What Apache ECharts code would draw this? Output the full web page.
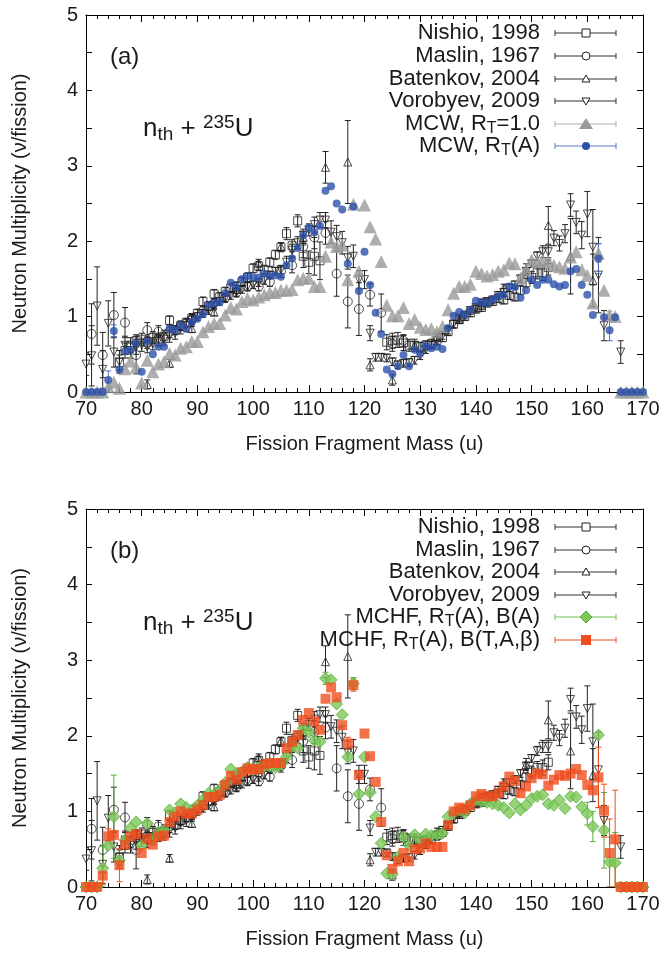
<!DOCTYPE html>
<html><head><meta charset="utf-8">
<script src="https://cdn.jsdelivr.net/npm/echarts@6/dist/echarts.min.js"></script>
<style>html,body{margin:0;padding:0;background:#fff}#c{width:667px;height:958px}</style>
</head><body><div id="c"></div>
<script>
// ---------- data ----------
const modelMass = [70,71,72,73,74,75,76,77,78,79,80,81,82,83,84,85,86,87,88,89,90,91,92,93,94,95,96,97,98,99,100,101,102,103,104,105,106,107,108,109,110,111,112,113,114,115,116,117,118,119,120,121,122,123,124,125,126,127,128,129,130,131,132,133,134,135,136,137,138,139,140,141,142,143,144,145,146,147,148,149,150,151,152,153,154,155,156,157,158,159,160,161,162,163,164,165,166,167,168,169,170];

const mcwRT1 = [0,0,0,0,0.07,0.13,0.05,0.31,0.41,0.33,0.12,0.42,0.27,0.37,0.40,0.51,0.49,0.58,0.60,0.67,0.67,0.80,0.87,0.91,0.91,1.02,1.12,1.10,1.20,1.24,1.22,1.26,1.29,1.32,1.32,1.35,1.35,1.36,1.49,1.51,1.51,1.40,1.40,1.80,1.99,1.93,1.95,1.49,2.49,1.60,2.48,2.19,2.03,1.73,1.15,1.01,1.01,1.12,0.91,0.96,0.86,0.83,0.84,0.80,0.87,1.09,1.31,1.40,1.40,1.43,1.60,1.57,1.54,1.56,1.60,1.62,1.71,1.70,1.51,1.62,1.75,1.73,1.75,1.73,1.68,1.66,1.64,1.79,1.86,1.62,1.55,1.18,1.84,1.35,1.02,1.00,0,0,0,0,0];

const mcwRTA = [0,0,0,0,0.16,0.81,0.30,0.54,0.56,0.65,0.27,0.67,0.50,0.60,0.60,0.84,0.82,0.89,0.84,0.93,0.97,1.03,1.15,1.18,1.19,1.31,1.45,1.39,1.50,1.54,1.52,1.52,1.57,1.54,1.55,1.53,1.68,1.77,1.91,2.08,2.18,2.12,2.20,2.67,2.73,2.50,2.42,1.70,2.46,1.34,1.86,1.42,1.05,0.77,0.30,0.24,0.34,0.49,0.34,0.56,0.51,0.61,0.58,0.60,0.57,0.85,1.01,1.06,1.02,1.09,1.21,1.19,1.18,1.23,1.27,1.29,1.40,1.39,1.25,1.35,1.49,1.42,1.49,1.49,1.43,1.40,1.42,1.60,1.63,1.42,1.29,1.02,1.77,0.99,0.82,0.99,0,0,0,0,0];

const mchfBA = [0,0,0,0.25,0.55,0.93,0.35,0.62,0.78,0.86,0.55,0.84,0.62,0.72,0.75,1.02,0.98,1.10,1.05,1.02,1.08,1.15,1.24,1.22,1.28,1.38,1.56,1.50,1.52,1.58,1.55,1.58,1.60,1.60,1.58,1.62,1.72,1.86,1.84,2.10,2.05,1.94,1.92,2.76,2.74,2.42,2.28,1.72,2.69,1.23,1.72,1.25,0.93,0.58,0.18,0.17,0.40,0.66,0.55,0.69,0.62,0.70,0.68,0.69,0.71,0.93,0.98,1.02,0.98,1.10,1.15,1.13,1.12,1.10,1.08,1.05,0.98,1.10,1.02,1.08,1.17,1.20,1.22,1.10,1.08,1.15,1.04,1.20,1.19,1.06,0.97,0.80,2.01,0.75,0.33,0.32,0,0,0,0,0];

const mchfBTAb = [0,0,0,0.15,0.67,0.69,0.29,0.56,0.67,0.70,0.45,0.64,0.56,0.67,0.68,0.86,0.93,1.00,0.97,0.97,1.02,1.08,1.19,1.19,1.22,1.35,1.47,1.42,1.52,1.57,1.55,1.56,1.62,1.64,1.64,1.64,1.84,1.92,2.01,2.21,2.30,2.19,2.08,2.49,2.64,2.51,2.14,1.90,2.67,1.48,2.03,1.73,1.39,0.86,0.42,0.24,0.34,0.45,0.34,0.50,0.51,0.58,0.53,0.53,0.53,0.82,1.00,1.05,1.03,1.08,1.20,1.23,1.20,1.20,1.24,1.33,1.46,1.40,1.24,1.33,1.44,1.50,1.49,1.34,1.42,1.48,1.47,1.50,1.56,1.48,1.35,1.28,1.45,1.01,0.45,0.63,0,0,0,0,0];

const mcwRT1ErrMass = [162,164];
const mcwRT1ErrVal = [0.12,0.05];
const mcwRTAErrMass = [74,75,162,164];
const mcwRTAErrVal = [0.12,0.08,0.20,0.14];
const mchfBAErrMass = [73,75,113,118,160,161,163,164,165];
const mchfBAErrVal = [0.30,0.55,0.08,0.08,0.15,0.20,0.50,0.33,0.40];
const mchfBTAbErrMass = [73,74,76,117,118,162,163,164,165];
const mchfBTAbErrVal = [0.12,0.10,0.22,0.08,0.08,0.40,0.35,0.45,0.65];

const nishioMass = [76,77,78,79,80,81,82,83,84,85,86,87,88,89,90,91,92,93,94,95,96,97,98,99,100,101,102,103,104,105,106,107,108,109,110,111,112,124,125,126,127,128,129,130,131,132,133,134,135,136,137,138,139,140,141,142,143,144,145,146,147,148,149,150,151,152,153];
const nishioNu = [0.39,0.55,0.62,0.68,0.70,0.66,0.72,0.70,0.74,0.95,0.82,0.88,0.92,0.98,1.04,1.20,1.14,1.30,1.26,1.33,1.38,1.40,1.46,1.52,1.64,1.67,1.62,1.72,1.82,1.92,2.10,1.94,2.27,1.80,1.72,1.80,1.74,0.66,0.68,0.69,0.65,0.62,0.62,0.60,0.62,0.64,0.68,0.72,0.80,0.90,0.96,1.00,1.05,1.10,1.12,1.18,1.20,1.24,1.22,1.28,1.26,1.35,1.45,1.52,1.58,1.58,1.65];
const nishioErr = [0.10,0.10,0.10,0.08,0.08,0.08,0.08,0.08,0.08,0.06,0.06,0.06,0.06,0.06,0.06,0.06,0.06,0.06,0.06,0.06,0.06,0.06,0.06,0.06,0.06,0.06,0.06,0.06,0.06,0.06,0.08,0.08,0.08,0.15,0.15,0.25,0.25,0.10,0.10,0.10,0.10,0.08,0.08,0.06,0.06,0.06,0.06,0.05,0.05,0.05,0.05,0.05,0.05,0.05,0.05,0.05,0.05,0.05,0.05,0.05,0.05,0.06,0.06,0.08,0.08,0.10,0.10];

const maslinMass = [71,73,75,77,79,81,83,85,87,89,91,93,95,97,99,101,103,105,107,109,111,113,115,117,119,121,123,125,127];
const maslinNu = [0.77,0.49,1.02,0.92,0.49,0.82,0.80,0.80,0.88,0.96,1.08,1.18,1.25,1.32,1.40,1.40,1.46,1.60,1.68,1.93,2.05,2.11,1.57,1.20,1.10,1.29,1.05,0.64,0.68];
const maslinErr = [0.40,0.30,0.30,0.20,0.25,0.10,0.08,0.08,0.06,0.06,0.05,0.05,0.05,0.06,0.06,0.06,0.06,0.08,0.10,0.15,0.15,0.15,0.30,0.35,0.35,0.15,0.25,0.10,0.08];

const batenkovMass = [81,85,89,93,97,101,105,109,113,117,121,125,129,133,137,141,145,149,153,157,161];
const batenkovNu = [0.10,0.38,0.84,1.06,1.36,1.71,1.93,2.05,2.98,3.05,0.36,0.16,0.62,0.73,0.96,1.15,1.38,1.62,2.21,1.80,1.48];
const batenkovErr = [0.06,0.05,0.05,0.05,0.05,0.05,0.05,0.08,0.21,0.55,0.08,0.07,0.05,0.05,0.05,0.05,0.05,0.08,0.25,0.50,0.35];

const vorobyevMass = [70,71,72,73,74,75,76,77,78,79,80,81,82,83,84,85,86,87,88,89,90,91,92,93,94,95,96,97,98,99,100,101,102,103,104,105,106,107,108,109,110,111,112,113,114,115,116,117,118,119,120,121,122,123,124,125,126,127,128,129,130,131,132,133,134,135,136,137,138,139,140,141,142,143,144,145,146,147,148,149,150,151,152,153,154,155,156,157,158,159,160,161,162,163,166];
const vorobyevNu = [0.37,0.48,1.14,0.30,0.91,0.53,0.40,0.62,0.55,0.60,0.62,0.60,0.64,0.68,0.70,0.74,0.78,0.85,0.88,0.95,1.00,1.04,1.08,1.14,1.20,1.24,1.28,1.32,1.36,1.40,1.42,1.45,1.48,1.55,1.60,1.62,1.72,1.88,1.98,2.08,2.15,2.22,2.28,2.28,2.12,2.06,1.98,1.78,1.80,1.49,1.49,0.78,0.46,0.46,0.45,0.40,0.36,0.38,0.39,0.42,0.48,0.56,0.62,0.68,0.75,0.82,0.90,0.98,1.02,1.08,1.12,1.18,1.20,1.22,1.28,1.32,1.38,1.42,1.50,1.60,1.70,1.80,1.86,1.86,2.04,1.97,2.10,2.48,2.25,2.08,2.36,1.92,1.55,0.88,0.53];
const vorobyevErr = [0.15,0.40,0.52,0.25,0.30,0.20,0.15,0.12,0.10,0.10,0.08,0.08,0.08,0.08,0.08,0.08,0.08,0.08,0.08,0.08,0.05,0.05,0.05,0.05,0.05,0.05,0.05,0.05,0.05,0.05,0.05,0.05,0.05,0.05,0.05,0.05,0.08,0.08,0.08,0.08,0.08,0.10,0.10,0.10,0.15,0.15,0.15,0.15,0.15,0.12,0.12,0.10,0.05,0.05,0.05,0.05,0.05,0.05,0.05,0.05,0.05,0.05,0.05,0.05,0.05,0.05,0.05,0.05,0.05,0.05,0.05,0.05,0.05,0.05,0.05,0.05,0.05,0.05,0.05,0.05,0.05,0.06,0.08,0.08,0.10,0.10,0.12,0.15,0.15,0.18,0.30,0.50,0.50,0.20,0.15];

const xTicks = [70,80,90,100,110,120,130,140,150,160,170];
const yTicks = [0,1,2,3,4,5];

// ---------- styling ----------
const FONT = '"Liberation Sans", Arial, Helvetica, sans-serif';
const TXT = '#1a1a1a';
const EXP = '#222222';
const GRAY = '#9a9a9a';
const BLUE = '#2c50aa';
const GREEN = '#7cc85a';
const GREEN_D = '#5aae38';
const RED = '#f04e1e';

function pairs(m, v) { return m.map((x, i) => [x, v[i]]); }
function triples(m, v, e) { return m.map((x, i) => [x, v[i], e[i]]); }
function modelErr(mass, err, model) {
  return mass.map((x, i) => [x, model[modelMass.indexOf(x)], err[i]]);
}

function errSeries(data, color, g) {
  return {
    type: 'custom', xAxisIndex: g * 2, yAxisIndex: g * 2, data: data, clip: true, silent: true, z: 2,
    renderItem: function (params, api) {
      const x = api.value(0), y = api.value(1), e = api.value(2);
      if (!e) return null;
      const lo = Math.max(0, y - e);
      const p1 = api.coord([x, y + e]);
      const p2 = api.coord([x, lo]);
      const w = 3;
      const st = { stroke: color, lineWidth: 1 };
      return { type: 'group', children: [
        { type: 'line', shape: { x1: p1[0], y1: p1[1], x2: p2[0], y2: p2[1] }, style: st },
        { type: 'line', shape: { x1: p1[0] - w, y1: p1[1], x2: p1[0] + w, y2: p1[1] }, style: st },
        { type: 'line', shape: { x1: p2[0] - w, y1: p2[1], x2: p2[0] + w, y2: p2[1] }, style: st }
      ]};
    }
  };
}
function scat(data, g, symbol, size, itemStyle, rot, z) {
  return { type: 'scatter', xAxisIndex: g * 2, yAxisIndex: g * 2, data: data, symbol: symbol,
    symbolSize: size, symbolRotate: rot || 0, itemStyle: itemStyle, silent: true, z: z || 3, clip: false };
}
const hollow = { color: 'rgba(255,255,255,0)', borderColor: EXP, borderWidth: 1 };

function expSeries(g) {
  return [
    errSeries(triples(nishioMass, nishioNu, nishioErr), EXP, g),
    errSeries(triples(maslinMass, maslinNu, maslinErr), EXP, g),
    errSeries(triples(batenkovMass, batenkovNu, batenkovErr), EXP, g),
    errSeries(triples(vorobyevMass, vorobyevNu, vorobyevErr), EXP, g),
    scat(pairs(nishioMass, nishioNu), g, 'rect', 8, hollow),
    scat(pairs(maslinMass, maslinNu), g, 'circle', 9, hollow),
    scat(pairs(batenkovMass, batenkovNu), g, 'triangle', 8, hollow),
    scat(pairs(vorobyevMass, vorobyevNu), g, 'triangle', 8, hollow, 180)
  ];
}

const series = [].concat(
  expSeries(0),
  [
    errSeries(modelErr(mcwRT1ErrMass, mcwRT1ErrVal, mcwRT1), '#aaaaaa', 0),
    scat(pairs(modelMass, mcwRT1), 0, 'triangle', 13, { color: GRAY }, 0, 4),
    errSeries(modelErr(mcwRTAErrMass, mcwRTAErrVal, mcwRTA), '#4a6cc4', 0),
    scat(pairs(modelMass, mcwRTA), 0, 'circle', 8, { color: BLUE }, 0, 5)
  ],
  expSeries(1),
  [
    errSeries(modelErr(mchfBAErrMass, mchfBAErrVal, mchfBA), GREEN_D, 1),
    scat(pairs(modelMass, mchfBA), 1, 'diamond', 12, { color: GREEN, borderColor: GREEN_D, borderWidth: 1 }, 0, 4),
    errSeries(modelErr(mchfBTAbErrMass, mchfBTAbErrVal, mchfBTAb), RED, 1),
    scat(pairs(modelMass, mchfBTAb), 1, 'rect', 10, { color: RED }, 0, 5)
  ]
);

function xAx(g, pos) {
  const bottom = pos === 'bottom';
  return {
    gridIndex: g, type: 'value', min: 70, max: 170, interval: 10, position: pos,
    axisLine: { show: true, onZero: false, lineStyle: { color: '#000', width: 1 } },
    axisTick: { show: true, inside: true, length: 7, lineStyle: { color: '#000' } },
    minorTick: { show: true, splitNumber: 5, length: 4, lineStyle: { color: '#000' } },
    splitLine: { show: false },
    axisLabel: { show: bottom, fontSize: 20, fontFamily: FONT, color: TXT, margin: 7 },
    name: bottom ? 'Fission Fragment Mass (u)' : '', nameLocation: 'middle', nameGap: 42,
    nameTextStyle: { fontSize: 20, fontFamily: FONT, color: TXT }
  };
}
function yAx(g, pos) {
  const left = pos === 'left';
  return {
    gridIndex: g, type: 'value', min: 0, max: 5, interval: 0.5, position: pos,
    axisLine: { show: true, onZero: false, lineStyle: { color: '#000', width: 1 } },
    axisTick: { show: true, inside: true, length: 6, lineStyle: { color: '#000' } },
    splitLine: { show: false },
    axisLabel: { show: left, fontSize: 20, fontFamily: FONT, color: TXT, margin: 8,
      formatter: v => (yTicks.indexOf(v) >= 0 ? String(v) : '') },
    name: left ? 'Neutron Multiplicity (\u03bd/fission)' : '', nameLocation: 'middle', nameGap: 56, nameRotate: 90,
    nameTextStyle: { fontSize: 20, fontFamily: FONT, color: TXT }
  };
}

// ---------- legend / annotations (graphic) ----------
const LX0 = 555, LX1 = 616, LS = 586, TXR = 540;
function legLine(y, color) {
  const st = { stroke: color, lineWidth: 1 };
  return [
    { type: 'line', shape: { x1: LX0, y1: y, x2: LX1, y2: y }, style: st, silent: true },
    { type: 'line', shape: { x1: LX0, y1: y - 3, x2: LX0, y2: y + 3 }, style: st, silent: true },
    { type: 'line', shape: { x1: LX1, y1: y - 3, x2: LX1, y2: y + 3 }, style: st, silent: true }
  ];
}
function legSym(kind, y) {
  const s = { fill: '#fff', stroke: EXP, lineWidth: 1 };
  switch (kind) {
    case 'square': return { type: 'rect', shape: { x: LS - 4, y: y - 4, width: 8, height: 8 }, style: s };
    case 'circle': return { type: 'circle', shape: { cx: LS, cy: y, r: 4 }, style: s };
    case 'tup': return { type: 'polygon', shape: { points: [[LS, y - 4], [LS - 4, y + 3], [LS + 4, y + 3]] }, style: s };
    case 'tdown': return { type: 'polygon', shape: { points: [[LS, y + 4], [LS - 4, y - 3], [LS + 4, y - 3]] }, style: s };
    case 'gtri': return { type: 'polygon', shape: { points: [[LS, y - 6], [LS - 7, y + 5], [LS + 7, y + 5]] }, style: { fill: GRAY } };
    case 'bdot': return { type: 'circle', shape: { cx: LS, cy: y, r: 4 }, style: { fill: BLUE } };
    case 'gdia': return { type: 'polygon', shape: { points: [[LS, y - 6], [LS + 6, y], [LS, y + 6], [LS - 6, y]] }, style: { fill: GREEN, stroke: GREEN_D, lineWidth: 1 } };
    case 'rsq': return { type: 'rect', shape: { x: LS - 5, y: y - 5, width: 10, height: 10 }, style: { fill: RED } };
  }
}
const RICH = {
  sub: { fontSize: 16, fontFamily: FONT, fill: TXT, color: TXT, verticalAlign: 'bottom', lineHeight: 14 }
};
function legText(y, text) {
  return { type: 'text', x: TXR, y: y, silent: true,
    style: { text: text, font: '22px ' + FONT, fill: TXT, align: 'right', verticalAlign: 'middle', lineHeight: 25, rich: RICH } };
}
function legRow(y, text, kind, lineColor) {
  return [].concat(legLine(y, lineColor), [legSym(kind, y), legText(y, text)]);
}
const legendA = [
  ['Nishio, 1998', 'square', '#333'],
  ['Maslin, 1967', 'circle', '#333'],
  ['Batenkov, 2004', 'tup', '#333'],
  ['Vorobyev, 2009', 'tdown', '#333'],
  ['MCW, R{sub|T}=1.0', 'gtri', '#b0b0b0'],
  ['MCW, R{sub|T}(A)', 'bdot', '#5a78c8']
];
const legendB = [
  ['Nishio, 1998', 'square', '#333'],
  ['Maslin, 1967', 'circle', '#333'],
  ['Batenkov, 2004', 'tup', '#333'],
  ['Vorobyev, 2009', 'tdown', '#333'],
  ['MCHF, R{sub|T}(A), B(A)', 'gdia', '#6cc04a'],
  ['MCHF, R{sub|T}(A), B(T,A,\u03b2)', 'rsq', RED]
];
const rowsA = [33, 56, 79, 101, 124, 146];
const rowsB = [527, 550, 572, 595, 617, 640];

function reaction(yc) {
  return { type: 'text', x: 143, y: yc, silent: true,
    style: { text: 'n{sb|th} + {sp|235}U', font: '26px ' + FONT, fill: TXT, align: 'left', verticalAlign: 'middle', lineHeight: 31,
      rich: {
        sb: { fontSize: 19, fontFamily: FONT, fill: TXT, color: TXT, verticalAlign: 'bottom', lineHeight: 17 },
        sp: { fontSize: 19, fontFamily: FONT, fill: TXT, color: TXT, verticalAlign: 'top', lineHeight: 12 }
      } } };
}
function panelTag(t, yc) {
  return { type: 'text', x: 110, y: yc, silent: true,
    style: { text: t, font: '24px ' + FONT, fill: TXT, align: 'left', verticalAlign: 'middle' } };
}

let graphics = [panelTag('(a)', 57), panelTag('(b)', 551), reaction(129), reaction(623)];
legendA.forEach((r, i) => { graphics = graphics.concat(legRow(rowsA[i], r[0], r[1], r[2])); });
legendB.forEach((r, i) => { graphics = graphics.concat(legRow(rowsB[i], r[0], r[1], r[2])); });

const chart = echarts.init(document.getElementById('c'), null, { renderer: 'canvas' });
chart.setOption({
  animation: false,
  backgroundColor: '#fff',
  grid: [
    { left: 86, top: 15, width: 557, height: 377 },
    { left: 86, top: 509, width: 557, height: 378 }
  ],
  xAxis: [xAx(0, 'bottom'), xAx(0, 'top'), xAx(1, 'bottom'), xAx(1, 'top')],
  yAxis: [yAx(0, 'left'), yAx(0, 'right'), yAx(1, 'left'), yAx(1, 'right')],
  series: series,
  graphic: { elements: graphics }
});
</script></body></html>
